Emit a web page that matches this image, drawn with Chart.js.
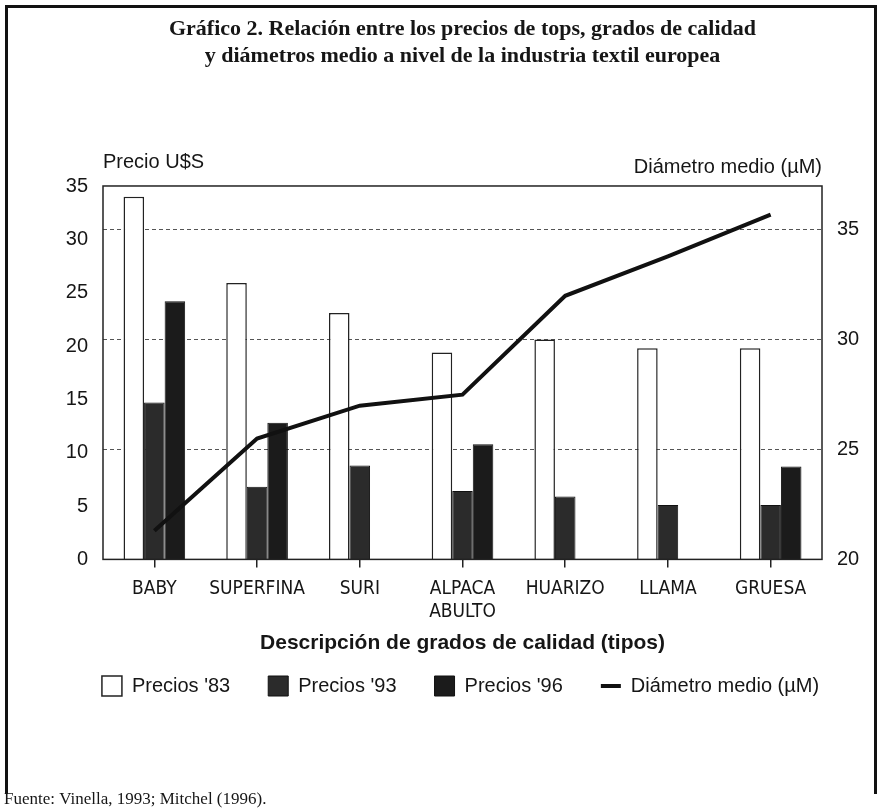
<!DOCTYPE html>
<html lang="es">
<head>
<meta charset="utf-8">
<title>Gráfico 2</title>
<script src="https://cdn.jsdelivr.net/npm/chart.js@4.4.1/dist/chart.umd.min.js"></script>
<style>
    html, body { margin: 0; padding: 0; background: #fff; }
    #marco {
        position: absolute; left: 5px; top: 5px; width: 866px; height: 786px;
        border: 3px solid #111; border-bottom: none;
    }
    #contenedor { position: absolute; left: 0; top: 0; width: 877px; height: 812px; }
</style>
</head>
<body>
<div id="marco"></div>
<div id="contenedor"><canvas id="grafico" width="877" height="812"></canvas></div>
<script>
// Datos
const categorias = ['BABY', 'SUPERFINA', 'SURI', ['ALPACA', 'ABULTO'], 'HUARIZO', 'LLAMA', 'GRUESA'];
const precios83 = [34.0, 25.9, 23.1, 19.4, 20.6, 19.8, 19.8];
const precios93 = [14.7, 6.8, 8.8, 6.4, 5.9, 5.1, 5.1];
const precios96 = [24.2, 12.8, null, 10.8, null, null, 8.7];
const diametroMedio = [21.3, 25.5, 27.0, 27.5, 32.0, 33.8, 35.7];
const ticksPrecio = [0, 35, 5];     // min, max, paso
const ticksDiametro = [20, 37, 5];
const fuente = 'Fuente: Vinella, 1993; Mitchel (1996).';

const tinta = '#161616';
const sans = "'Liberation Sans', Arial, sans-serif";
const sansNarrow = "'Liberation Sans Narrow', 'DejaVu Sans Condensed', 'Liberation Sans', sans-serif";
const serif = "'Liberation Serif', 'Times New Roman', serif";

// Caja del área de trazado, títulos horizontales de los ejes y nota de fuente
const marcoPlugin = {
    id: 'marcoPlugin',
    afterDraw(chart) {
        const { ctx, chartArea } = chart;
        ctx.save();
        ctx.strokeStyle = '#222';
        ctx.lineWidth = 1.5;
        ctx.strokeRect(chartArea.left, chartArea.top, chartArea.right - chartArea.left, chartArea.bottom - chartArea.top);
        ctx.fillStyle = tinta;
        ctx.font = '20px ' + sans;
        ctx.textBaseline = 'middle';
        ctx.textAlign = 'left';
        ctx.fillText('Precio U$S', chartArea.left, chartArea.top - 24);
        ctx.textAlign = 'right';
        ctx.fillText('Diámetro medio (µM)', chartArea.right, chartArea.top - 19);
        ctx.textAlign = 'left';
        ctx.font = '17px ' + serif;
        ctx.fillText(fuente, 4, chart.height - 12);
        ctx.restore();
    }
};

const ctx = document.getElementById('grafico').getContext('2d');
const grafico = new Chart(ctx, {
    data: {
        labels: categorias,
        datasets: [
            {
                type: 'bar', label: "Precios '83", data: precios83,
                backgroundColor: '#ffffff', borderColor: '#222', borderWidth: 1.5,
                yAxisID: 'y', order: 1
            },
            {
                type: 'bar', label: "Precios '93", data: precios93,
                backgroundColor: '#2b2b2b', borderColor: '#111', borderWidth: 1,
                yAxisID: 'y', order: 1
            },
            {
                type: 'bar', label: "Precios '96", data: precios96,
                backgroundColor: '#1b1b1b', borderColor: '#111', borderWidth: 1,
                yAxisID: 'y', order: 1
            },
            {
                type: 'line', label: 'Diámetro medio (µM)', data: diametroMedio,
                borderColor: '#111', backgroundColor: '#111', borderWidth: 4,
                pointRadius: 0, tension: 0, fill: false,
                yAxisID: 'y1', order: 0, pointStyle: 'line'
            }
        ]
    },
    options: {
        responsive: false,
        animation: false,
        events: [],
        layout: { padding: { left: 44, right: 0, top: 6, bottom: 106 } },
        datasets: {
            bar: { categoryPercentage: 0.6, barPercentage: 1.0 }
        },
        scales: {
            x: {
                offset: true,
                border: { display: false },
                grid: {
                    display: true, drawOnChartArea: false, drawTicks: true,
                    tickLength: 8, offset: false, color: '#222', lineWidth: 1.5
                },
                ticks: {
                    color: tinta, padding: 10, maxRotation: 0, autoSkip: false,
                    font: { family: sansNarrow, size: 19, lineHeight: 1.2 }
                },
                title: {
                    display: true, text: 'Descripción de grados de calidad (tipos)',
                    color: tinta, padding: { top: 0, bottom: -16 },
                    font: { family: sans, size: 21, weight: 'bold', lineHeight: 1.0 }
                }
            },
            y: {
                position: 'left',
                min: ticksPrecio[0], max: ticksPrecio[1],
                border: { display: false },
                grid: { display: false, drawTicks: false },
                ticks: {
                    stepSize: ticksPrecio[2], color: tinta, padding: 15,
                    font: { family: sans, size: 20 }
                },
                afterFit(scale) { scale.width = 59; }
            },
            y1: {
                position: 'right',
                min: ticksDiametro[0], max: ticksDiametro[1],
                border: { display: false, dash: [4, 3] },
                grid: {
                    drawOnChartArea: true, drawTicks: false, lineWidth: 1,
                    color: (c) => (c.tick && c.tick.value > ticksDiametro[0]) ? '#555' : 'rgba(0,0,0,0)'
                },
                ticks: {
                    stepSize: ticksDiametro[2], includeBounds: false, color: tinta, padding: 15,
                    font: { family: sans, size: 20 }
                },
                afterFit(scale) { scale.width = 55; }
            }
        },
        plugins: {
            tooltip: { enabled: false },
            title: {
                display: true, fullSize: false,
                text: ['Gráfico 2. Relación entre los precios de tops, grados de calidad',
                       'y diámetros medio a nivel de la industria textil europea'],
                color: tinta,
                font: { family: serif, size: 22, weight: 'bold', lineHeight: 1.227 },
                padding: { top: 10, bottom: 116 }
            },
            legend: {
                position: 'bottom',
                labels: {
                    color: tinta, padding: 38,
                    usePointStyle: true, pointStyleWidth: 20, boxHeight: 22,
                    font: { family: sans, size: 20 },
                    sort: (a, b) => a.datasetIndex - b.datasetIndex,
                    generateLabels(chart) {
                        const items = Chart.defaults.plugins.legend.labels.generateLabels(chart);
                        items.forEach(item => {
                            if (item.datasetIndex < 3) item.pointStyle = 'rect';
                        });
                        return items;
                    }
                }
            }
        }
    },
    plugins: [marcoPlugin]
});
</script>
</body>
</html>
